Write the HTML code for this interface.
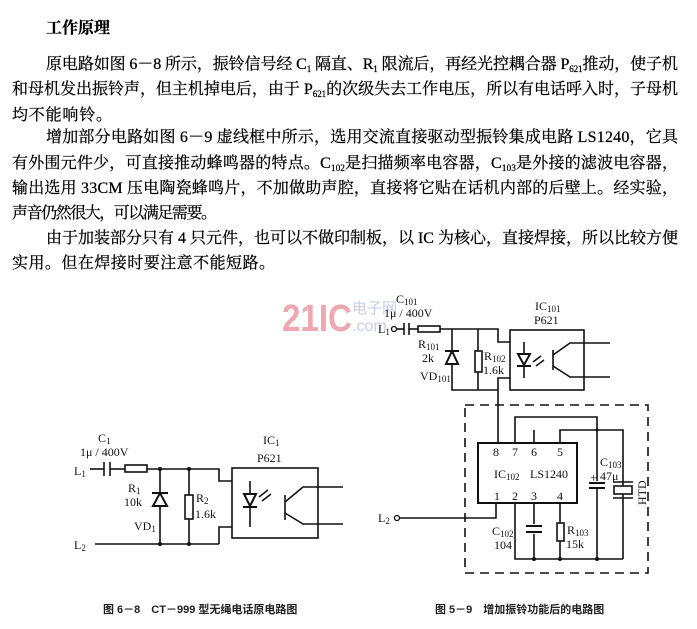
<!DOCTYPE html>
<html><head><meta charset="utf-8"><style>
html,body{margin:0;padding:0;background:#fff;}
svg{display:block;}
.t{font-family:"Liberation Serif","Noto Serif CJK SC","Noto Sans CJK SC",serif;font-size:16px;fill:#000;stroke:#000;stroke-width:0.25;}
.s{font-size:9px;}
.c{font-family:"Liberation Serif","Noto Serif CJK SC",serif;font-size:12px;fill:#111;}
.cap{font-family:"Liberation Sans","Noto Sans CJK SC",sans-serif;font-size:11px;font-weight:bold;fill:#222;}
</style></head><body>
<svg width="697" height="629" viewBox="0 0 697 629" xmlns="http://www.w3.org/2000/svg">
<rect width="697" height="629" fill="#fff"/>
<text class="t" x="46" y="33" font-weight="bold" font-family="'Noto Sans CJK SC',sans-serif">工作原理</text>
<text class="t" x="46" y="69" textLength="632" lengthAdjust="spacing">原电路如图 6－8 所示，振铃信号经 C<tspan class="s" dy="3">1</tspan><tspan dy="-3"> 隔直、R</tspan><tspan class="s" dy="3">1</tspan><tspan dy="-3"> 限流后，再经光控耦合器 P</tspan><tspan class="s" dy="3">621</tspan><tspan dy="-3">推动，使子机</tspan></text>
<text class="t" x="12" y="94" textLength="666" lengthAdjust="spacing">和母机发出振铃声，但主机掉电后，由于 P<tspan class="s" dy="3">621</tspan><tspan dy="-3">的次级失去工作电压，所以有电话呼入时，子母机</tspan></text>
<text class="t" x="12" y="120" textLength="100" lengthAdjust="spacing">均不能响铃。</text>
<text class="t" x="46" y="142" textLength="632" lengthAdjust="spacing">增加部分电路如图 6－9 虚线框中所示，选用交流直接驱动型振铃集成电路 LS1240，它具</text>
<text class="t" x="12" y="168" textLength="666" lengthAdjust="spacing">有外围元件少，可直接推动蜂鸣器的特点。C<tspan class="s" dy="3">102</tspan><tspan dy="-3">是扫描频率电容器，C</tspan><tspan class="s" dy="3">103</tspan><tspan dy="-3">是外接的滤波电容器，</tspan></text>
<text class="t" x="12" y="193" textLength="666" lengthAdjust="spacing">输出选用 33CM 压电陶瓷蜂鸣片，不加做助声腔，直接将它贴在话机内部的后壁上。经实验，</text>
<text class="t" x="12" y="218" textLength="205" lengthAdjust="spacing">声音仍然很大，可以满足需要。</text>
<text class="t" x="46" y="243" textLength="632" lengthAdjust="spacing">由于加装部分只有 4 只元件，也可以不做印制板，以 IC 为核心，直接焊接，所以比较方便</text>
<text class="t" x="12" y="268" textLength="263" lengthAdjust="spacing">实用。但在焊接时要注意不能短路。</text>

<!-- watermark -->
<text x="282" y="331" font-family="'Liberation Sans',sans-serif" font-weight="bold" font-size="38" fill="#eea8b2" textLength="70" lengthAdjust="spacingAndGlyphs">21IC</text>
<text x="352" y="313" font-family="'Noto Sans CJK SC',sans-serif" font-size="15" fill="#c8cde8">电子网</text>
<text x="352" y="331" font-family="'Liberation Sans',sans-serif" font-size="16" fill="#c8cde8">.com</text>

<g stroke="#111" stroke-width="1.6" fill="none">
<!-- Fig 6-8 -->
<line x1="90" y1="469" x2="104" y2="469"/>
<line x1="104" y1="462" x2="104" y2="476"/><line x1="110" y1="462" x2="110" y2="476"/>
<line x1="110" y1="469" x2="125" y2="469"/>
<rect x="125" y="465" width="22" height="7"/>
<polyline points="147,469 219,469 219,481 232,481"/>
<line x1="95" y1="544" x2="219" y2="544"/>
<polyline points="219,544 219,527 232,527"/>
<line x1="160" y1="469" x2="160" y2="544"/>
<line x1="189" y1="469" x2="189" y2="544"/>
<rect x="185" y="495" width="8" height="24" fill="#fff"/>
<rect x="232" y="468" width="86" height="70"/>
<polyline points="250,481 250,527"/>
<polyline points="318,487 343,487"/><polyline points="318,524 343,524"/>
<line x1="285" y1="495" x2="285" y2="520"/>
<polyline points="285,502 303,487 318,487"/><polyline points="285,513 303,524 318,524"/>
<line x1="259" y1="497" x2="268" y2="490"/><line x1="262" y1="501" x2="271" y2="494"/>
<!-- Fig 6-9 -->
<line x1="396" y1="329" x2="404" y2="329"/>
<line x1="404" y1="323" x2="404" y2="335"/><line x1="409" y1="323" x2="409" y2="335"/>
<line x1="409" y1="329" x2="418" y2="329"/>
<rect x="418" y="326" width="22" height="6"/>
<polyline points="440,329 498,329 498,342 510,342"/>
<polyline points="452,329 452,390 498,390"/>
<line x1="478" y1="329" x2="478" y2="390"/>
<rect x="475" y="351" width="7" height="21" fill="#fff"/>
<polyline points="510,378 498,378 498,443"/>
<rect x="510" y="330" width="74" height="60"/>
<line x1="524" y1="342" x2="524" y2="378"/>
<line x1="584" y1="343" x2="610" y2="343"/><line x1="584" y1="377" x2="610" y2="377"/>
<line x1="553" y1="350" x2="553" y2="370"/>
<polyline points="553,355 570,343 584,343"/><polyline points="553,366 570,377 584,377"/>
<line x1="533" y1="362" x2="541" y2="356"/><line x1="536" y1="366" x2="544" y2="360"/>
<rect x="465" y="405" width="183" height="168" stroke-dasharray="9,6"/>
<rect x="478" y="443" width="99" height="60" stroke-width="2"/>
<polyline points="515,443 515,417 597,417 597,559"/>
<line x1="534" y1="443" x2="534" y2="430"/>
<polyline points="560,443 560,430 623,430 623,559"/>
<polyline points="496,503 496,518 400,518"/>
<polyline points="515,503 515,559 623,559"/>
<line x1="534" y1="503" x2="534" y2="559"/>
<line x1="560" y1="503" x2="560" y2="559"/>
<rect x="557" y="523" width="7" height="18" fill="#fff"/>
</g>
<g stroke="#111" stroke-width="2" fill="#fff">
<polygon points="153,506 167,506 160,493"/><line x1="152" y1="493" x2="168" y2="493"/>
<polygon points="244,494 256,494 250,506"/><line x1="243" y1="507" x2="257" y2="507"/>
<polygon points="446,364 458,364 452,351"/><line x1="445" y1="351" x2="459" y2="351"/>
<polygon points="518,354 530,354 524,365"/><line x1="517" y1="366" x2="531" y2="366"/>
<rect x="527" y="524" width="14" height="10" stroke="none"/>
<line x1="526" y1="526" x2="542" y2="526"/><line x1="526" y1="532" x2="542" y2="532"/>
<rect x="589" y="481" width="16" height="8" stroke="none"/>
<line x1="589" y1="483" x2="605" y2="483"/><line x1="589" y1="488" x2="605" y2="488"/>
<rect x="614" y="486" width="18" height="8" stroke-width="1.6"/>
<line x1="613" y1="482" x2="633" y2="482" stroke-width="1.6"/><line x1="613" y1="498" x2="633" y2="498" stroke-width="1.6"/>
</g>
<g fill="#111">
<circle cx="160" cy="469" r="2"/><circle cx="189" cy="469" r="2"/><circle cx="160" cy="544" r="2"/><circle cx="189" cy="544" r="2"/>
<circle cx="534" cy="559" r="2"/><circle cx="560" cy="559" r="2"/><circle cx="597" cy="559" r="2"/><circle cx="597" cy="430" r="1.5"/>
</g>
<circle cx="394" cy="329" r="2.5" fill="#fff" stroke="#111" stroke-width="1.3"/>
<circle cx="397" cy="518" r="2.5" fill="#fff" stroke="#111" stroke-width="1.3"/>
<g class="c">
<text x="98" y="442">C<tspan class="s" dy="2">1</tspan></text>
<text x="80" y="456">1μ / 400V</text>
<text x="74" y="475">L<tspan class="s" dy="2">1</tspan></text>
<text x="74" y="549">L<tspan class="s" dy="2">2</tspan></text>
<text x="128" y="492">R<tspan class="s" dy="2">1</tspan></text>
<text x="124" y="506">10k</text>
<text x="196" y="502">R<tspan class="s" dy="2">2</tspan></text>
<text x="195" y="518">1.6k</text>
<text x="134" y="530">VD<tspan class="s" dy="2">1</tspan></text>
<text x="263" y="444">IC<tspan class="s" dy="2">1</tspan></text>
<text x="257" y="462">P621</text>
<text x="396" y="303">C<tspan class="s" dy="2">101</tspan></text>
<text x="384" y="317">1μ / 400V</text>
<text x="378" y="333">L<tspan class="s" dy="2">1</tspan></text>
<text x="378" y="522">L<tspan class="s" dy="2">2</tspan></text>
<text x="418" y="348">R<tspan class="s" dy="2">101</tspan></text>
<text x="422" y="362">2k</text>
<text x="420" y="380">VD<tspan class="s" dy="2">101</tspan></text>
<text x="484" y="360">R<tspan class="s" dy="2">102</tspan></text>
<text x="483" y="374">1.6k</text>
<text x="535" y="310">IC<tspan class="s" dy="2">101</tspan></text>
<text x="534" y="324">P621</text>
<text x="493" y="456">8</text><text x="512" y="456">7</text><text x="531" y="456">6</text><text x="557" y="456">5</text>
<text x="494" y="500">1</text><text x="512" y="500">2</text><text x="531" y="500">3</text><text x="557" y="500">4</text>
<text x="494" y="478">IC<tspan class="s" dy="2">102</tspan></text>
<text x="530" y="478">LS1240</text>
<text x="600" y="466">C<tspan class="s" dy="2">103</tspan></text>
<text x="600" y="480">47μ</text>
<text x="590" y="482" font-size="13">+</text>
<text x="492" y="535">C<tspan class="s" dy="2">102</tspan></text>
<text x="494" y="549">104</text>
<text x="567" y="534">R<tspan class="s" dy="2">103</tspan></text>
<text x="566" y="548">15k</text>
<text x="0" y="0" transform="translate(646,505) rotate(-90)">HTD</text>
</g>
<text class="cap" x="103" y="613">图 6－8　CT－999 型无绳电话原电路图</text>
<text class="cap" x="435" y="613">图 5－9　增加振铃功能后的电路图</text>
</svg>
</body></html>
